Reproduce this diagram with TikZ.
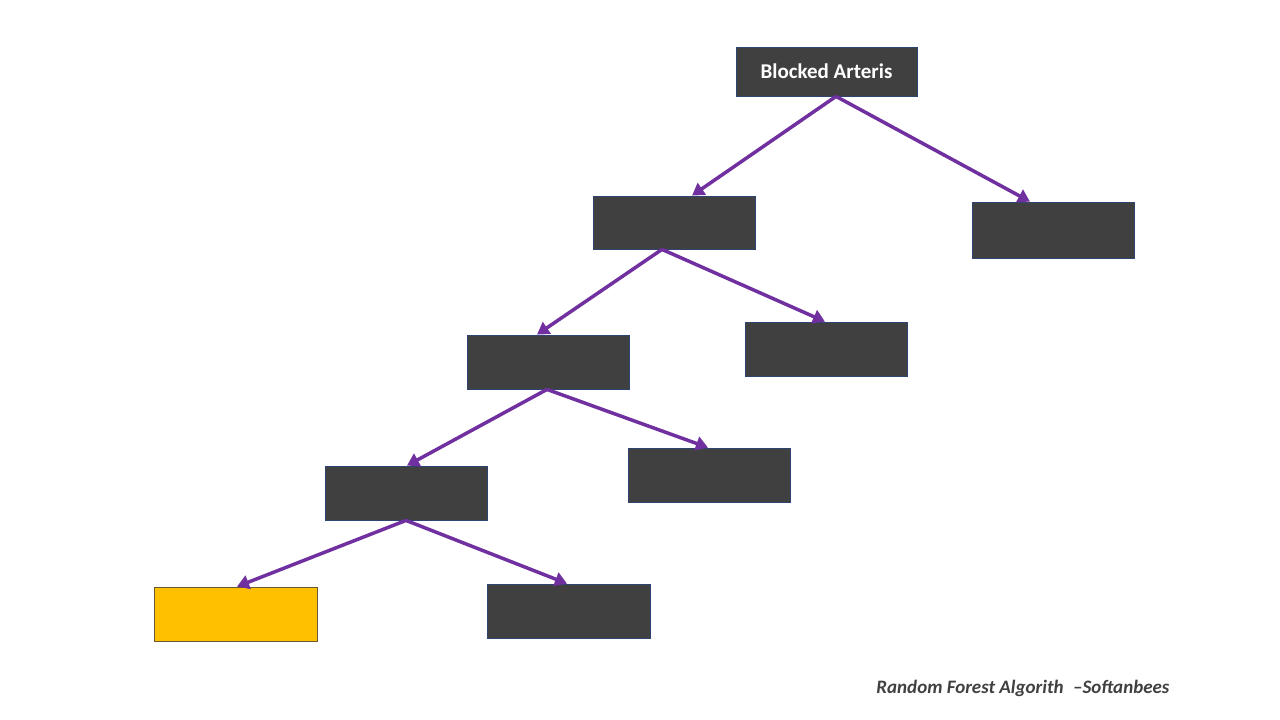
\documentclass[tikz,border=0pt]{standalone}
\usepackage{fontspec}
\setmainfont{Carlito}
\usetikzlibrary{arrows.meta}
\definecolor{boxgray}{HTML}{404040}
\definecolor{boxedge}{HTML}{2F4470}
\definecolor{arr}{HTML}{7030A0}
\definecolor{gold}{HTML}{FFC000}
\begin{document}
\begin{tikzpicture}[x=1pt,y=-1pt,
  tbox/.style={draw=boxedge,line width=0.8pt,fill=boxgray,minimum width=162pt,minimum height=54pt,inner sep=0pt},
  leafy/.style={draw=boxgray!80!gold,line width=0.8pt,fill=gold,minimum width=163pt,minimum height=54pt,inner sep=0pt},
  conn/.style={draw=arr,line width=3.5pt,-{Triangle[length=12pt,width=14pt]}}]
\useasboundingbox (0,0) rectangle (1280,720);
\node[tbox,minimum width=181pt,minimum height=49pt,font=\bfseries\fontsize{21}{24}\selectfont,text=white] (root) at (826.5,71.5) {Blocked Arteris};
\node[tbox,minimum height=53pt] (A) at (674,222.5) {};
\node[tbox,minimum height=56pt] (B) at (1053,230) {};
\node[tbox] (C) at (548,362) {};
\node[tbox] (D) at (826,349) {};
\node[tbox] (E) at (406,493) {};
\node[tbox] (F) at (709,475) {};
\node[leafy] (G) at (235.5,614) {};
\node[tbox,minimum width=163pt] (H) at (568.5,611) {};
\node[font=\bfseries\itshape\fontsize{19}{22}\selectfont,text=boxgray,anchor=east] (cap) at (1173,688) {Random Forest Algorith\enspace–Softanbees};
\draw[conn] ([xshift=9.5pt]root.south) -- ([xshift=18pt]A.north);
\draw[conn] ([xshift=9.5pt]root.south) -- ([xshift=-23pt]B.north);
\draw[conn] ([xshift=-12pt]A.south) -- ([xshift=-11pt]C.north);
\draw[conn] ([xshift=-12pt]A.south) -- ([xshift=-1pt]D.north);
\draw[conn] ([xshift=-1pt]C.south) -- ([xshift=1pt]E.north);
\draw[conn] ([xshift=-1pt]C.south) -- ([xshift=-1pt]F.north);
\draw[conn] (E.south) -- ([xshift=1.5pt]G.north);
\draw[conn] (E.south) -- ([xshift=-1.5pt]H.north);
\end{tikzpicture}
\end{document}
